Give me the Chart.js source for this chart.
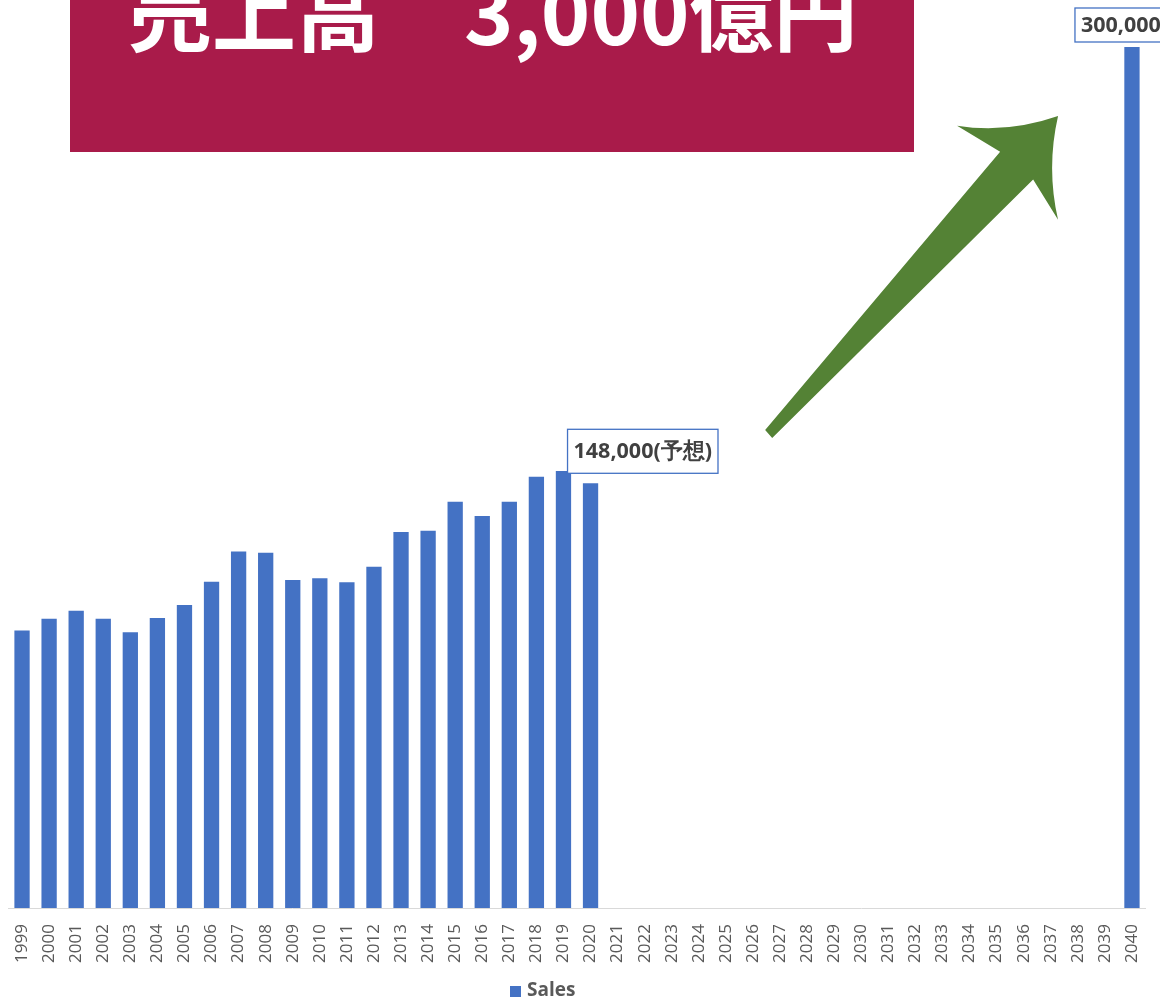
<!DOCTYPE html>
<html lang="ja">
<head>
<meta charset="utf-8">
<title>Sales</title>
<script src="https://cdn.jsdelivr.net/npm/chart.js@4.4.1/dist/chart.umd.min.js"></script>
<style>
    html, body { margin: 0; padding: 0; background: #fff; }
    #wrap { width: 1160px; height: 1001px; }
</style>
</head>
<body>
<div id="wrap"><canvas id="sales-chart" width="1160" height="1001"></canvas></div>
<script>
const years = [
    '1999', '2000', '2001', '2002', '2003', '2004', '2005', '2006', '2007', '2008',
    '2009', '2010', '2011', '2012', '2013', '2014', '2015', '2016', '2017', '2018',
    '2019', '2020', '2021', '2022', '2023', '2024', '2025', '2026', '2027', '2028',
    '2029', '2030', '2031', '2032', '2033', '2034', '2035', '2036', '2037', '2038',
    '2039', '2040'
];
const sales = [
    96700, 100800, 103600, 100800, 96100, 101100, 105600, 113700, 124200, 123800,
    114300, 114900, 113500, 118900, 131000, 131500, 141600, 136600, 141600, 150300,
    152300, 148000, null, null, null, null, null, null, null, null,
    null, null, null, null, null, null, null, null, null, null,
    null, 300000
];
const labelYears = ['2020', '2040'];
const labelTexts = ['148,000(予想)', '300,000'];
const headline = '売上高\u30003,000億円';

const BLUE = '#4472C4';
const GREEN = '#548235';
const CRIMSON = '#A91B4A';

// value callouts, headline box, arrow and legend
const extras = {
    id: 'extras',
    afterDraw(chart) {
        const ctx = chart.ctx;
        const x = chart.scales.x;
        const y = chart.scales.y;
        const meta = chart.getDatasetMeta(0);

        // headline box
        ctx.save();
        ctx.fillStyle = CRIMSON;
        ctx.fillRect(70, 0, 844, 152);
        ctx.fillStyle = '#fff';
        ctx.font = 'bold 84px "Noto Sans CJK JP"';
        ctx.textBaseline = 'alphabetic';
        ctx.fillText(headline, 128, 45);
        ctx.restore();

        // arrow, outline given in (category index, value)
        const P = (i, v) => [x.getPixelForValue(i), y.getPixelForValue(v)];
        const tailL = P(27.45, 166600), tailR = P(27.71, 163820);
        const shaftL = P(36.13, 263500), shaftR = P(37.35, 253800);
        const barbL = P(34.54, 272600), barbR = P(38.27, 239800);
        const tip = P(38.27, 276000);
        const cA = P(36.39, 269800), cB = P(37.83, 257900);
        ctx.save();
        ctx.fillStyle = GREEN;
        ctx.beginPath();
        ctx.moveTo(...tailL);
        ctx.lineTo(...shaftL);
        ctx.lineTo(...barbL);
        ctx.quadraticCurveTo(...cA, ...tip);
        ctx.quadraticCurveTo(...cB, ...barbR);
        ctx.lineTo(...shaftR);
        ctx.lineTo(...tailR);
        ctx.closePath();
        ctx.fill();
        ctx.restore();

        // callouts
        const offsets = [{ dx: -23, dy: -54, h: 44 }, { dx: -57, dy: -39, h: 34 }];
        ctx.save();
        ctx.font = 'bold 21.5px "Open Sans"';
        ctx.textBaseline = 'middle';
        labelYears.forEach((yr, k) => {
            const bar = meta.data[years.indexOf(yr)];
            const o = offsets[k];
            const w = ctx.measureText(labelTexts[k]).width + 12;
            const bx = bar.x + o.dx, by = bar.y + o.dy;
            ctx.fillStyle = '#fff';
            ctx.fillRect(bx, by, w, o.h);
            ctx.strokeStyle = BLUE;
            ctx.lineWidth = 1.3;
            ctx.strokeRect(bx, by, w, o.h);
            ctx.fillStyle = '#404040';
            ctx.fillText(labelTexts[k], bx + 6, by + o.h / 2 + 1);
        });
        ctx.restore();

        // legend
        ctx.save();
        ctx.fillStyle = BLUE;
        ctx.fillRect(510, 986, 11, 11);
        ctx.fillStyle = '#595959';
        ctx.font = 'bold 19px "Open Sans"';
        ctx.textBaseline = 'middle';
        ctx.fillText(chart.data.datasets[0].label, 527, 991);
        ctx.restore();
    }
};

new Chart(document.getElementById('sales-chart'), {
    type: 'bar',
    data: {
        labels: years,
        datasets: [{
            label: 'Sales',
            data: sales,
            backgroundColor: BLUE,
            categoryPercentage: 1,
            barPercentage: 0.565
        }]
    },
    options: {
        responsive: false,
        animation: false,
        layout: { padding: { top: 47, left: 8.5, right: 14.5, bottom: 22 } },
        plugins: {
            legend: { display: false },
            tooltip: { enabled: false }
        },
        scales: {
            x: {
                grid: { display: false, drawTicks: false },
                border: { display: true, color: '#D9D9D9', width: 1 },
                ticks: {
                    autoSkip: false,
                    minRotation: 90,
                    maxRotation: 90,
                    padding: 16,
                    color: '#595959',
                    font: { family: 'Open Sans', size: 17 }
                },
                afterFit(scale) {
                    scale.paddingLeft = 0;
                    scale.paddingRight = 0;
                }
            },
            y: {
                display: false,
                min: 0,
                max: 300000
            }
        }
    },
    plugins: [extras]
});
</script>
</body>
</html>
